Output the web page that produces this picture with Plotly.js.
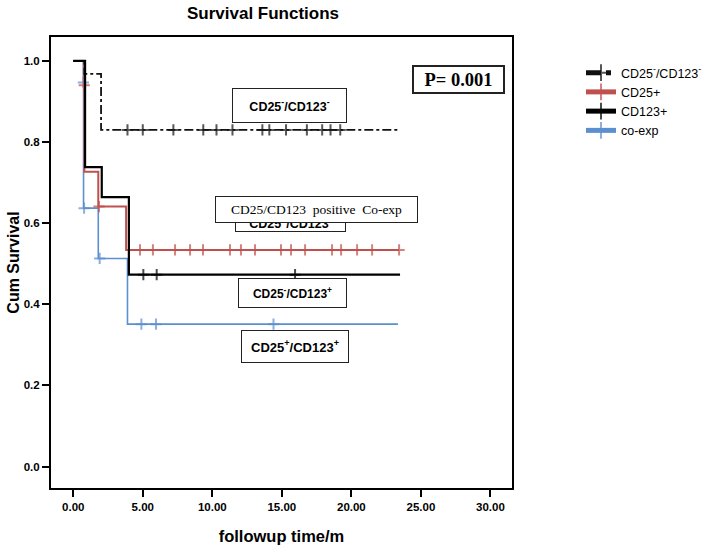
<!DOCTYPE html>
<html>
<head>
<meta charset="utf-8">
<script src="https://cdn.plot.ly/plotly-3.0.1.min.js"></script>
<style>html,body{margin:0;padding:0;background:#fff;}</style>
</head>
<body>
<div id="chart" style="width:714px;height:550px;"></div>
<script>
// ---- Data ----
const seriesNames = ["CD25<sup>-</sup>/CD123<sup>-</sup>", "CD25+", "CD123+", "co-exp"];

// CD25-/CD123-
const negEventT = [0.8, 2.0];
const negEventS = [0.968, 0.830];
const negCensorT = [3.9, 5.0, 7.2, 9.35, 10.3, 11.45, 13.6, 14.1, 15.3, 16.8, 17.9, 18.5, 19.2];
const negEndT = 23.45;

// CD25+
const cd25EventT = [0.78, 0.8, 1.8, 3.8];
const cd25EventS = [0.94, 0.727, 0.641, 0.534];
const cd25CensorT = [0.79, 1.85, 4.8, 5.73, 7.32, 8.4, 9.33, 11.27, 12.06, 13.07, 14.94, 15.66, 16.67, 18.61, 19.26, 20.41, 21.49, 23.43];
const cd25EndT = 23.43;

// CD123+
const cd123EventT = [0.85, 2.05, 4.0];
const cd123EventS = [0.738, 0.664, 0.473];
const cd123CensorT = [5.04, 6.0, 15.95];
const cd123EndT = 23.5;

// co-exp
const coEventT = [0.72, 0.74, 1.8, 3.9];
const coEventS = [0.947, 0.637, 0.513, 0.351];
const coCensorT = [0.73, 0.78, 1.9, 4.9, 5.95, 14.4];
const coEndT = 23.35;

const xTickStep = 5;
const yTickStep = 0.2;

// ---- Build KM step series ----
function buildSeries(evT, evS, cT, endT) {
  const pts = [{t: 0, s: 1, c: false, o: 0}];
  evT.forEach((t, i) => pts.push({t: t, s: evS[i], c: false, o: 1}));
  cT.forEach(t => pts.push({t: t, s: null, c: true, o: 2}));
  pts.push({t: endT, s: null, c: false, o: 3});
  pts.sort((a, b) => a.t - b.t || a.o - b.o);
  let level = 1;
  pts.forEach(p => { if (p.s === null) p.s = level; else level = p.s; });
  return {x: pts.map(p => p.t), y: pts.map(p => p.s), size: pts.map(p => p.c ? 8 : 0)};
}

const defs = [
  {d: buildSeries(negEventT, negEventS, negCensorT, negEndT), color: "#111111", width: 1.8, dash: "dashdot", rank: 1},
  {d: buildSeries(cd25EventT, cd25EventS, cd25CensorT, cd25EndT), color: "#c0504d", width: 2, dash: "solid", rank: 2},
  {d: buildSeries(cd123EventT, cd123EventS, cd123CensorT, cd123EndT), color: "#000000", width: 2.2, dash: "solid", rank: 3},
  {d: buildSeries(coEventT, coEventS, coCensorT, coEndT), color: "#5b8fd0", width: 1.6, dash: "solid", rank: 4}
];

// drawing order: blue, red, dashed, black (black on top); legend order kept via legendrank
const drawOrder = [3, 1, 0, 2];
const traces = drawOrder.map(i => {
  const g = defs[i];
  return {
    type: "scatter",
    mode: "lines+markers",
    name: seriesNames[i],
    legendrank: g.rank,
    x: g.d.x, y: g.d.y,
    line: {shape: "hv", color: g.color, width: g.width, dash: g.dash},
    marker: {symbol: "cross-thin", size: g.d.size, color: g.color, line: {color: g.color, width: 2}}
  };
});

// ---- pixel helpers for annotation placement (plot area 51..512 x 37..488) ----
const PL = 51, PR = 512, PT = 37, PB = 488;
const px2x = p => (p - PL) / (PR - PL);
const py2y = p => (PB - p) / (PB - PT);

const sans = "Liberation Sans, Arial, sans-serif";
const serif = "Liberation Serif, Times New Roman, serif";

function box(text, x0, x1, y0, y1, font, bw, extra) {
  return Object.assign({
    xref: "paper", yref: "paper",
    x: px2x((x0 + x1) / 2), y: py2y((y0 + y1) / 2),
    xanchor: "center", yanchor: "middle",
    text: text, showarrow: false,
    width: (x1 - x0) - 2 * bw, height: (y1 - y0) - 2 * bw,
    borderpad: 0, borderwidth: bw, bordercolor: "#222",
    bgcolor: "#ffffff", font: font
  }, extra || {});
}

const annotations = [
  box("CD25<sup>-</sup>/CD123<sup>-</sup>", 232, 347, 88, 123, {family: sans, size: 12.5, weight: "bold", color: "#000"}, 1),
  box("P= 0.001", 412, 505, 65, 94, {family: serif, size: 18.5, weight: "bold", color: "#000"}, 2),
  box("CD25<sup>+</sup>/CD123<sup>-</sup>", 235, 346, 204, 232, {family: sans, size: 12.5, weight: "bold", color: "#000"}, 1, {valign: "bottom"}),
  box("CD25/CD123  positive  Co-exp", 215, 418, 196, 223, {family: serif, size: 13.5, color: "#000"}, 1),
  box("CD25<sup>-</sup>/CD123<sup>+</sup>", 238, 347, 278, 308, {family: sans, size: 12, weight: "bold", color: "#000"}, 1),
  box("CD25<sup>+</sup>/CD123<sup>+</sup>", 241, 349, 330, 363, {family: sans, size: 13, weight: "bold", color: "#000"}, 1)
];

const axisCommon = {
  showline: true, linewidth: 2, linecolor: "#000", mirror: true,
  showgrid: false, zeroline: false,
  ticks: "outside", ticklen: 7, tickwidth: 2, tickcolor: "#000",
  tickfont: {family: sans, size: 11.5, weight: "bold", color: "#000"}
};

const layout = {
  width: 714, height: 550,
  margin: {l: PL, r: 714 - PR, t: PT, b: 550 - PB, autoexpand: false},
  paper_bgcolor: "#fff", plot_bgcolor: "#fff",
  title: {text: "Survival Functions", font: {family: sans, size: 17, weight: "bold", color: "#000"},
          xref: "paper", x: px2x(263), xanchor: "center", yref: "container", y: 1 - 13 / 550, yanchor: "middle"},
  xaxis: Object.assign({}, axisCommon, {
    range: [-1.6, 31.55], tick0: 0, dtick: xTickStep, tickformat: ".2f",
    title: {text: "followup time/m", font: {family: sans, size: 16.5, weight: "bold", color: "#000"}, standoff: 19}
  }),
  yaxis: Object.assign({}, axisCommon, {
    range: [-0.053, 1.059], tick0: 0, dtick: yTickStep, tickformat: ".1f",
    title: {text: "Cum Survival", font: {family: sans, size: 16, weight: "bold", color: "#000"}, standoff: 0}
  }),
  legend: {
    x: px2x(581), y: py2y(58), xanchor: "left", yanchor: "top",
    font: {family: sans, size: 12.5, color: "#000"},
    itemsizing: "constant", bgcolor: "rgba(0,0,0,0)", itemwidth: 30, tracegroupgap: 0
  },
  annotations: annotations,
  showlegend: true
};

Plotly.newPlot("chart", traces, layout, {displayModeBar: false, staticPlot: true});
</script>
</body>
</html>
